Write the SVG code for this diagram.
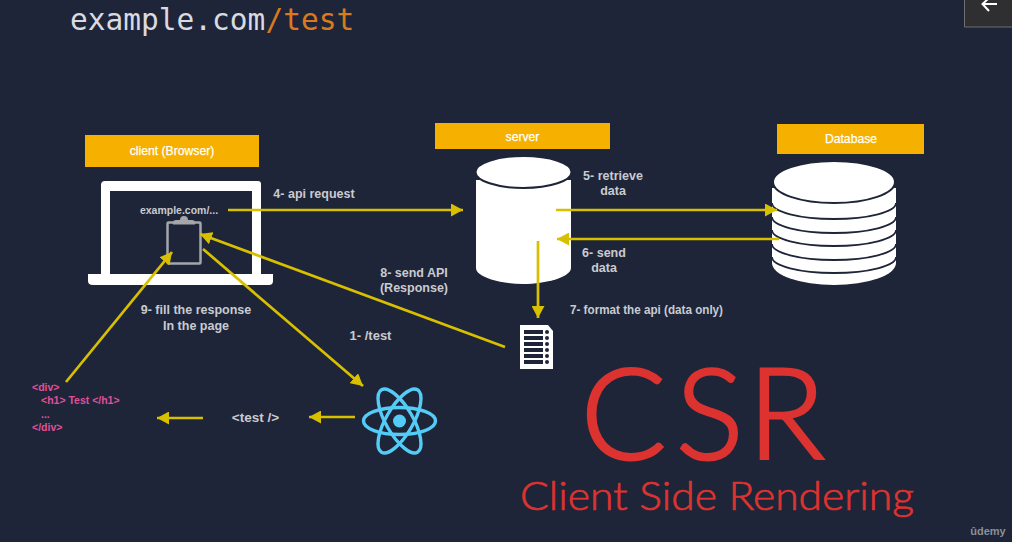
<svg xmlns="http://www.w3.org/2000/svg" width="1016" height="542" viewBox="0 0 1016 542">
<style>
.t{font-family:"Liberation Sans",Arial,sans-serif;font-weight:700;font-size:12.5px;fill:#c9cbd0;text-anchor:middle}
.h{font-family:"Liberation Sans",Arial,sans-serif;font-size:12.2px;fill:#fff;stroke:#fff;stroke-width:.25;text-anchor:middle;font-weight:400}
.b{fill:#f6b000}
.w{fill:#fff}
.c{stroke:#d8c000;stroke-width:2.7;fill:none}
.p{font-family:"Liberation Sans",Arial,sans-serif;font-weight:700;font-size:10.5px;fill:#e0509a}
.s{fill:none;stroke:#1e2538;stroke-width:1.8}
.r{fill:none;stroke:#53cdf8;stroke-width:3.4}
.csr{font-family:Lato,"Liberation Sans",sans-serif;font-weight:300;fill:#dd3330;stroke:#dd3330}
</style>
<defs>
<marker id="a" markerUnits="userSpaceOnUse" markerWidth="14" markerHeight="13" refX="12" refY="6.500" orient="auto"><path d="M0 0L12 6.500L0 13z" fill="#d8c000"/></marker>
</defs>
<rect width="1016" height="542" fill="#fff"/>
<rect width="1012" height="542" fill="#1e2538"/>
<g id="title"><text x="70" y="30" font-family="'DejaVu Sans Mono','Liberation Mono',monospace" font-size="29.500" fill="#d9dbe0">example.com<tspan fill="#d97a1e">/test</tspan></text></g>
<g id="back-button"><rect x="964.500" y="-1" width="47.500" height="28" fill="#2f2f31"/><path d="M964.500 0V27H1012" fill="none" stroke="#6d6f73"/><path d="M997 4H983M989 -2L982.500 4L989 11" fill="none" stroke="#fff" stroke-width="2"/></g>
<g id="client">
<rect class="b" x="85" y="135" width="174" height="32"/>
<text class="h" x="172" y="155">client (Browser)</text>
<path class="w" fill-rule="evenodd" d="M105 181H258Q261 181 261 184V274H273V281Q273 285 269 285H93Q88 285 88 281V274H101V185Q101 181 105 181ZM110 191V274H252V191Z"/>
<text x="179" y="214" font-family="'Liberation Sans',sans-serif" font-weight="700" font-size="10.500" fill="#c9cbd0" text-anchor="middle">example.com/...</text>
<rect x="167.500" y="222.500" width="33" height="41" rx="1" fill="none" stroke="#a4a6aa" stroke-width="2.500"/>
<path d="M173 222.500Q173 220 176 220H180Q180 216 184 216Q188 216 188 220H192Q195 220 195 222.500V224.500H173Z" fill="#a4a6aa"/>
</g>
<g id="server">
<rect class="b" x="435" y="123" width="175" height="26"/>
<text class="h" x="522.500" y="141">server</text>
<path class="w" d="M476 180V268C476 277 500 284 523 284C546 284 571 277 571 268V180Z"/>
<ellipse cx="523.500" cy="172" rx="48" ry="16" fill="#fff" stroke="#1e2538" stroke-width="2"/>
</g>
<g id="database">
<rect class="b" x="777" y="124" width="147" height="30"/>
<text class="h" x="851" y="143">Database</text>
<path class="w" d="M772 188V263A62 22 0 0 0 896 263V188Z"/>
<path class="s" d="M772 257A62 16 0 0 0 896 257"/>
<path class="s" d="M772 244A62 16 0 0 0 896 244"/>
<path class="s" d="M772 230A62 16 0 0 0 896 230"/>
<path class="s" d="M772 217A62 16 0 0 0 896 217"/>
<path class="s" d="M772 203A62 16 0 0 0 896 203"/>
<ellipse cx="834" cy="182" rx="61" ry="21" fill="#fff" stroke="#1e2538" stroke-width="2"/>
</g>
<g id="api-doc">
<path class="w" d="M520 325H548L553 331V369H520Z"/>
<g fill="#1e2538">
<rect x="524" y="330" width="19" height="4"/><rect x="524" y="336" width="19" height="4"/><rect x="524" y="342" width="19" height="4"/><rect x="524" y="348" width="19" height="4"/><rect x="524" y="354" width="19" height="4"/><rect x="524" y="360" width="19" height="4"/>
<circle cx="547" cy="332" r="2"/><circle cx="547" cy="338" r="2"/><circle cx="547" cy="344" r="2"/><circle cx="547" cy="350" r="2"/><circle cx="547" cy="356" r="2"/><circle cx="547" cy="362" r="2"/>
</g>
</g>
<g id="react">
<g class="r"><ellipse cx="399.500" cy="421" rx="36" ry="13.500"/><ellipse cx="399.500" cy="421" rx="36" ry="13.500" transform="rotate(60 399.500 421)"/><ellipse cx="399.500" cy="421" rx="36" ry="13.500" transform="rotate(120 399.500 421)"/></g>
<circle cx="399.500" cy="421" r="6.500" fill="#53cdf8"/>
</g>
<g id="html-snippet">
<text class="p" x="32" y="391">&lt;div&gt;</text>
<text class="p" x="41" y="404">&lt;h1&gt; Test &lt;/h1&gt;</text>
<text class="p" x="41" y="418">...</text>
<text class="p" x="32" y="431">&lt;/div&gt;</text>
</g>
<g id="connectors">
<path class="c" marker-end="url(#a)" d="M228 210H463"/>
<path class="c" marker-end="url(#a)" d="M556 210H777"/>
<path class="c" marker-end="url(#a)" d="M779 239H557"/>
<path class="c" marker-end="url(#a)" d="M538 241V318"/>
<path class="c" marker-end="url(#a)" d="M505 347L200 234"/>
<path class="c" marker-end="url(#a)" d="M203 249L363 386"/>
<path class="c" marker-end="url(#a)" d="M355 417H309"/>
<path class="c" marker-end="url(#a)" d="M203 418H157"/>
<path class="c" marker-end="url(#a)" d="M66 382L172 252"/>
</g>
<g id="labels">
<text class="t" x="314" y="198">4- api request</text>
<text class="t" x="613" y="180">5- retrieve</text><text class="t" x="613" y="195">data</text>
<text class="t" x="604" y="257">6- send</text><text class="t" x="604" y="272">data</text>
<text class="t" x="646.500" y="314" textLength="153" lengthAdjust="spacingAndGlyphs">7- format the api (data only)</text>
<text class="t" x="414" y="277">8- send API</text><text class="t" x="414" y="292">(Response)</text>
<text class="t" x="196" y="314">9- fill the response</text><text class="t" x="196" y="330">In the page</text>
<text class="t" x="370.500" y="340" style="font-size:13px">1- /test</text>
<text class="t" x="255.500" y="422" style="font-size:13.500px">&lt;test /&gt;</text>
</g>
<g id="csr">
<text class="csr" x="581 676 748" y="459" font-size="126" stroke-width="3">CSR</text>
<text class="csr" x="520" y="510" font-size="39" stroke-width=".7" textLength="394" lengthAdjust="spacingAndGlyphs">Client Side Rendering</text>
</g>
<text x="988" y="535" font-family="'Liberation Sans',sans-serif" font-weight="700" font-size="11" fill="#8c8f96" text-anchor="middle">ûdemy</text>
</svg>
